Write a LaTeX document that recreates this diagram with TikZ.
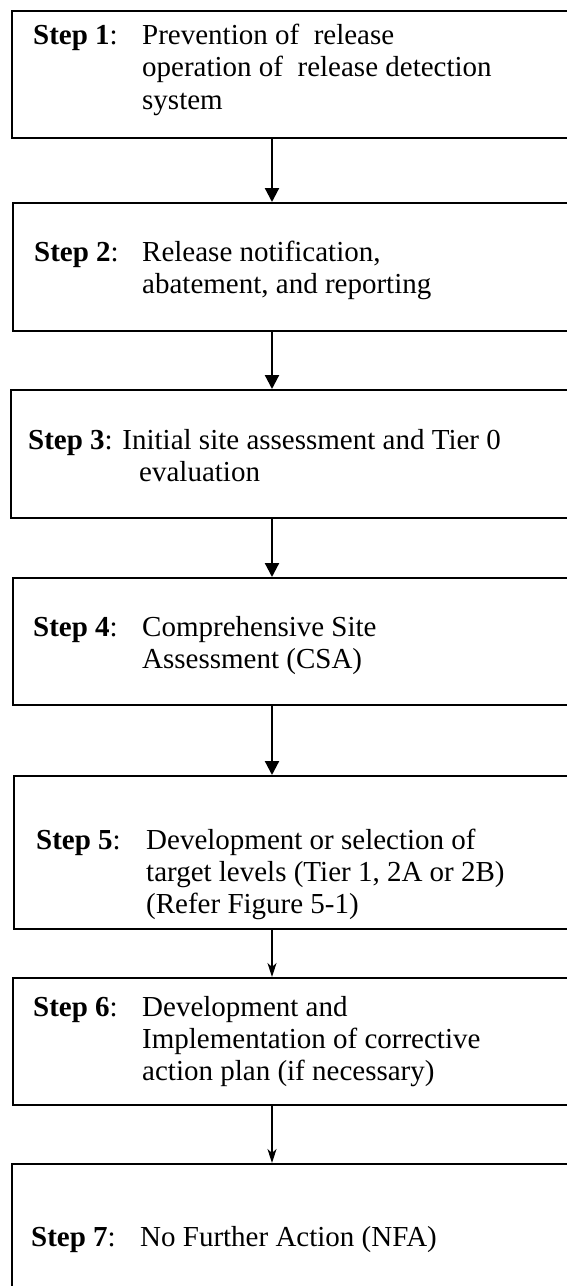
\documentclass[tikz,border=0pt]{standalone}
\usepackage{fontspec}
\setmainfont{Liberation Serif}
\usetikzlibrary{arrows.meta}
\begin{document}
\begin{tikzpicture}[x=1pt,y=-1pt,
  box/.style={draw, line width=1.5pt, rectangle, inner sep=0pt, anchor=north west, minimum width=620pt},
  boxb/.style={box, line width=2pt},
  txt/.style={anchor=base west, inner sep=0pt, font=\fontsize{29}{33}\selectfont},
  bigarrow/.style={-{Triangle[width=14pt,length=14pt]}, line width=2.2pt},
  smallarrow/.style={-{Stealth[width=9pt,length=14pt,inset=4pt]}, line width=1.3pt}]
\useasboundingbox (0,0) rectangle (567,1286);
\clip (0,0) rectangle (567,1286);
\coordinate (ax) at (272,0);
% boxes
\node[box,  minimum height=127pt] (b1) at (11,10) {};
\node[boxb, minimum height=128pt] (b2) at (12,202) {};
\node[box,  minimum height=128pt] (b3) at (10,389) {};
\node[boxb, minimum height=127pt] (b4) at (12,577) {};
\node[box,  minimum height=153pt] (b5) at (13,775) {};
\node[boxb, minimum height=127pt] (b6) at (12,977) {};
\node[box,  minimum height=200pt] (b7) at (11,1163) {};
% texts
\node[txt] (s1) at (33,44) {\textbf{Step 1}:};
\node[txt] (t1a) at (142,44) {Prevention of\ \ release};
\node[txt] (t1b) at (142,76.5) {operation of\ \ release detection};
\node[txt] (t1c) at (142,109) {system};
\node[txt] (s2) at (34,261) {\textbf{Step 2}:};
\node[txt] (t2a) at (142,261) {Release notification,};
\node[txt] (t2b) at (142,293) {abatement, and reporting};
\node[txt] (s3) at (28,449) {\textbf{Step 3}: Initial site assessment and Tier 0};
\node[txt] (t3b) at (139,481) {evaluation};
\node[txt] (s4) at (33,636) {\textbf{Step 4}:};
\node[txt] (t4a) at (142,636) {Comprehensive Site};
\node[txt] (t4b) at (142,668) {Assessment (CSA)};
\node[txt] (s5) at (36,849) {\textbf{Step 5}:};
\node[txt] (t5a) at (146,849) {Development or selection of};
\node[txt] (t5b) at (146,881) {target levels (Tier 1, 2A or 2B)};
\node[txt] (t5c) at (146,913) {(Refer Figure 5-1)};
\node[txt] (s6) at (33,1016) {\textbf{Step 6}:};
\node[txt] (t6a) at (142,1016) {Development and};
\node[txt] (t6b) at (142,1048) {Implementation of corrective};
\node[txt] (t6c) at (142,1080) {action plan (if necessary)};
\node[txt] (s7) at (31,1246) {\textbf{Step 7}:};
\node[txt] (t7) at (140,1246) {No Further Action (NFA)};
% connectors
\draw[bigarrow] (b1.south -| ax) -- (b2.north -| ax);
\draw[bigarrow] (b2.south -| ax) -- (b3.north -| ax);
\draw[bigarrow] (b3.south -| ax) -- (b4.north -| ax);
\draw[bigarrow] (b4.south -| ax) -- (b5.north -| ax);
\draw[smallarrow] (b5.south -| ax) -- (b6.north -| ax);
\draw[smallarrow] (b6.south -| ax) -- (b7.north -| ax);
\end{tikzpicture}
\end{document}
